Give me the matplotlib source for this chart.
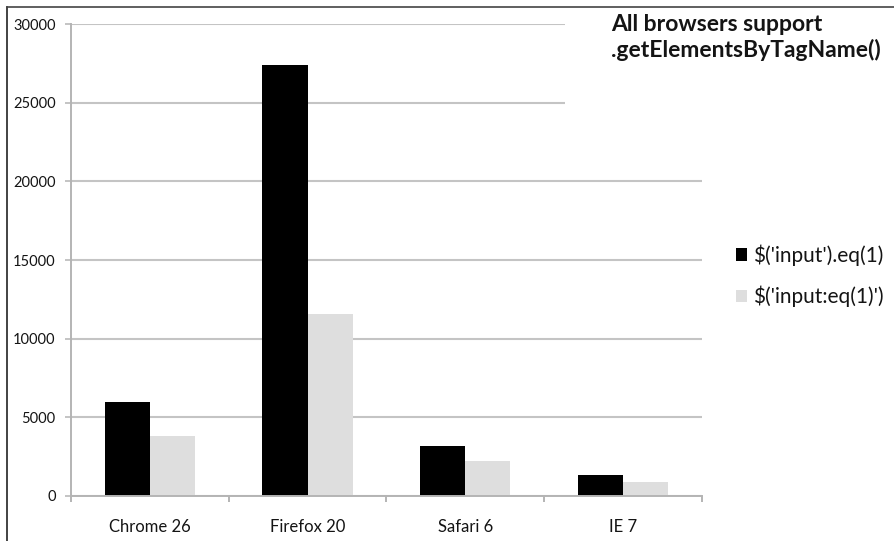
#!/usr/bin/env python3

# Bar chart: jQuery .eq(1) vs :eq(1) selector speed by browser.

import matplotlib
matplotlib.use("Agg")
import matplotlib.pyplot as plt
import numpy as np
from matplotlib.lines import Line2D
from matplotlib.patches import Rectangle

matplotlib.rc("font", family=["Lato", "DejaVu Sans"], size=11)

# Data
browsers = ["Chrome 26", "Firefox 20", "Safari 6", "IE 7"]
methodValues = [6000, 27400, 3150, 1330]
selectorValues = [3830, 11550, 2230, 860]
seriesLabels = ["\\$('input').eq(1)", "\\$('input:eq(1)')"]
yTicks = [0, 5000, 10000, 15000, 20000, 25000, 30000]
titleText = "All browsers support\n.getElementsByTagName()"

# Colours
methodColour = "#000000"
selectorColour = "#dedede"
gridColour = "#c4c4c4"
axisColour = "#b4b4b4"
textColour = "#141414"

figure = plt.figure(figsize=(8.94, 5.41), dpi=100)
axes = figure.add_axes([0.0794, 0.0832, 0.7058, 0.8724])

x = np.arange(len(browsers))
barWidth = 0.286
axes.bar(x - barWidth / 2, methodValues, barWidth, color=methodColour,
         label=seriesLabels[0], zorder=3)
axes.bar(x + barWidth / 2, selectorValues, barWidth, color=selectorColour,
         label=seriesLabels[1], zorder=3)

axes.set_xlim(-0.5, len(browsers) - 0.5)
axes.set_ylim(0, 30000)
axes.set_yticks(yTicks)
axes.set_yticklabels([str(t) for t in yTicks], color=textColour)
axes.set_xticks(x)
axes.set_xticklabels(browsers, color=textColour)
axes.set_xticks(np.arange(len(browsers) + 1) - 0.5, minor=True)

axes.tick_params(axis="y", length=4.5, width=1.4, color=gridColour, pad=6.5,
                 labelsize=10.5)
axes.tick_params(axis="x", which="major", length=0, pad=16.5, labelsize=12)
axes.tick_params(axis="x", which="minor", length=4.5, width=1.4,
                 color=axisColour)

axes.grid(axis="y", color=gridColour, linewidth=1.5)
axes.set_axisbelow(True)
for side in ["top", "right"]:
    axes.spines[side].set_visible(False)
for side in ["left", "bottom"]:
    axes.spines[side].set_color(axisColour)
    axes.spines[side].set_linewidth(1.4)
axes.spines["bottom"].set_zorder(4)

# Title box sits over the top gridlines
figure.add_artist(Rectangle((565 / 894, 1 - 140 / 541), 1, 140 / 541,
                            transform=figure.transFigure, facecolor="white",
                            edgecolor="none", zorder=5))
figure.text(611 / 894, 1 - 14 / 541, titleText, ha="left", va="top",
            fontsize=16.5, fontweight="bold", color=textColour,
            linespacing=1.22, zorder=6)

axes.legend(loc="center left", bbox_to_anchor=(736 / 894, 1 - 276 / 541),
            bbox_transform=figure.transFigure, frameon=False,
            handlelength=0.55, handleheight=0.55, handletextpad=0.25,
            labelspacing=0.95, fontsize=15, labelcolor=textColour,
            borderpad=0, borderaxespad=0)

# Thin border along the top and left edges
figure.add_artist(Line2D([6.5 / 894, 6.5 / 894], [0, 1 - 6.5 / 541],
                         transform=figure.transFigure, color="#222222",
                         linewidth=1.2, zorder=10))
figure.add_artist(Line2D([6.5 / 894, 1], [1 - 6.5 / 541, 1 - 6.5 / 541],
                         transform=figure.transFigure, color="#444444",
                         linewidth=1.2, zorder=10))

figure.savefig("out.png", dpi=100)
